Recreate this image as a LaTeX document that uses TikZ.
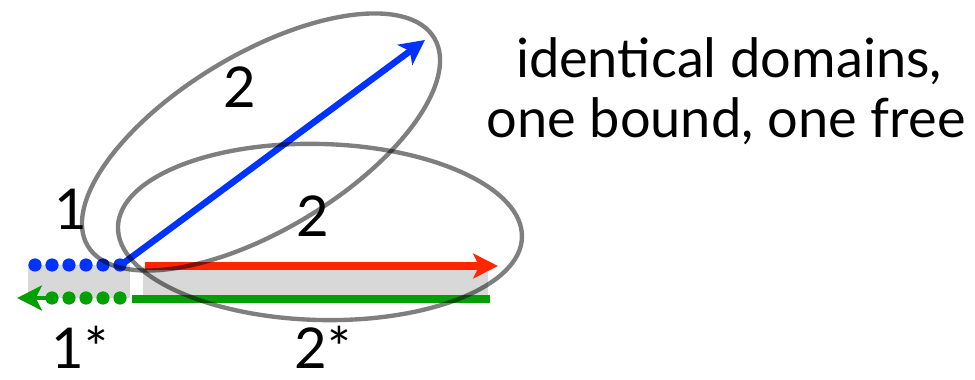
\documentclass[tikz,border=0pt]{standalone}
\usepackage{fontspec}
\setmainfont{Lato}
\usetikzlibrary{arrows.meta}
\definecolor{strandblue}{RGB}{0,51,255}
\definecolor{strandred}{RGB}{255,38,0}
\definecolor{strandgreen}{RGB}{0,160,0}
\definecolor{duplexgray}{RGB}{216,216,216}

\begin{document}
\begin{tikzpicture}[x=0.025cm, y=-0.025cm,
		lbl/.style={font=\fontsize{40}{48}\selectfont, inner sep=0pt, anchor=base},
		heading/.style={font=\fontsize{38.5}{46}\selectfont, inner sep=0pt, anchor=base},
		domloop/.style={draw=black, opacity=0.5, line width=3.1pt},
		tip/.style={-{Stealth[length=0.62cm, width=0.62cm, inset=0.15cm]}}]
		\useasboundingbox (0,0) rectangle (975,380);
		
		%duplex shading
		\fill [duplexgray] (28,265) rectangle (130,298);
		\fill [duplexgray] (143,266) rectangle (488,296);
		
		%strand ends
		\coordinate (bstart) at (121,265);
		\coordinate (bend) at (425,40);
		\coordinate (rstart) at (145,266);
		\coordinate (rend) at (498,266);
		\coordinate (gstart) at (132,299);
		\coordinate (gend) at (490,299);
		\coordinate (gdots) at (46,298);
		\coordinate (gtip) at (17,298);
		
		%dotted domain 1 and 1*
		\foreach \x in {35,52,69,86,103,120}
			\fill [strandblue] (\x,265) circle (0.165cm);
		\foreach \x in {52,69,86,103,120}
			\fill [strandgreen] (\x,298) circle (0.165cm);
		\draw [strandgreen, line width=3pt, tip] (gdots) -- (gtip);
		
		%domain 2 and 2*
		\draw [strandgreen, line width=5.7pt] (gstart) -- (gend);
		\draw [strandred, line width=5.7pt, tip] (rstart) -- (rend);
		\draw [strandblue, line width=4.6pt, tip] (bstart) -- (bend);
		
		%the two domains 2
		\coordinate (free) at (261,142);
		\coordinate (bound) at (320,232);
		\draw [domloop, rotate around={31:(free)}] (free) ellipse [x radius=5.05cm, y radius=2.2cm];
		\draw [domloop, rotate around={-1.5:(bound)}] (bound) ellipse [x radius=5.05cm, y radius=2.2cm];
		
		%labels
		\node [lbl] (one) at (71,230) {1};
		\node [lbl] (twofree) at (240,108) {2};
		\node [lbl] (twobound) at (313,237) {2};
		\node [lbl] (onestar) at (80,368) {1*};
		\node [lbl] (twostar) at (323,368) {2*};
		\node [heading] (title) at (729,78) {identical domains,};
		\node [heading] (subtitle) at (726,138) {one bound, one free};
	\end{tikzpicture}
\end{document}
